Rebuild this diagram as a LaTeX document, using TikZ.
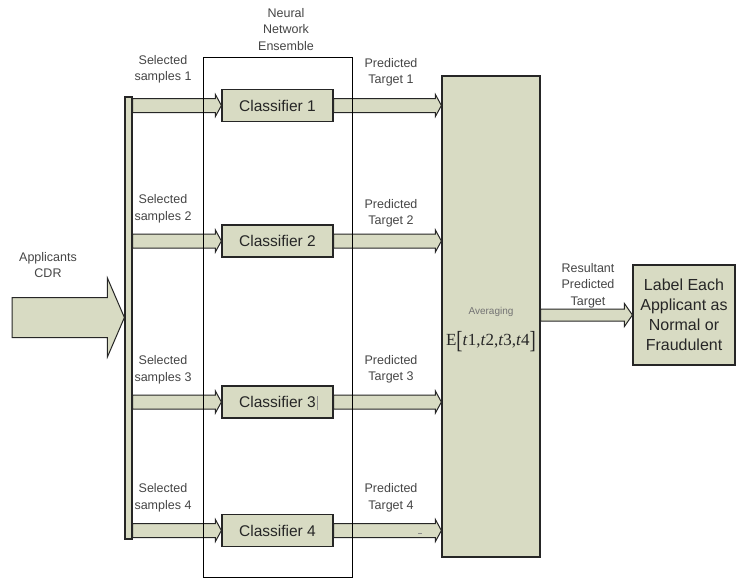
\documentclass[tikz,border=0pt]{standalone}
\usepackage{fontspec}
\usepackage{graphicx}
\setmainfont{Liberation Sans}
\newfontfamily\serifface{Liberation Serif}
\usetikzlibrary{calc}
\definecolor{boxfill}{HTML}{D8DBC3}
\definecolor{edge}{HTML}{262626}
\definecolor{txt}{HTML}{454545}
\tikzset{
 box/.style={draw=edge, fill=boxfill, line width=1.2pt, inner sep=0pt},
 clf/.style={box, minimum width=111pt, minimum height=32pt, font=\fontsize{15.5}{18}\selectfont, text=black!85},
 lbl/.style={align=center, inner sep=0pt, text=txt, font=\fontsize{12.5}{16.5}\selectfont},
 fat/.style={draw=edge, fill=boxfill, line width=1pt, line join=miter},
 ens/.style={draw=black, line width=0.8pt, inner sep=0pt},
}
\newcommand\fatarrow[5]{%
 \path[fat] let \p1=(#1), \p2=(#2) in
 (\x1,\y1+#3) -- (\x2-#5,\y1+#3) -- (\x2-#5,\y1+#4) -- (\x2,\y1) -- (\x2-#5,\y1-#4) -- (\x2-#5,\y1-#3) -- (\x1,\y1-#3) -- cycle;}
\begin{document}
\begin{tikzpicture}[x=1pt,y=-1pt]
\useasboundingbox (0,0) rectangle (736,578);
% boxes
\node[clf] (c1) at (277.5,105.5) {Classifier 1};
\node[clf] (c2) at (277.5,241) {Classifier 2};
\node[clf] (c3) at (277.5,402) {Classifier 3};
\node[clf] (c4) at (277.5,530.5) {Classifier 4};
\node[box, minimum width=98pt, minimum height=481pt] (avg) at (491,316.5) {};
\node[box, minimum width=7pt, minimum height=442pt] (bar) at (128.5,318) {};
\node[box, minimum width=102pt, minimum height=100pt, align=center, font=\fontsize{16}{20}\selectfont, text=black!85] (lab) at (684,315) {Label Each\\Applicant as\\Normal or\\Fraudulent};
% texts in averaging box
\node[inner sep=0pt, font=\fontsize{10}{12}\selectfont, text=black!55] (avgt) at (491,312) {Averaging};
\node[inner sep=0pt, font=\serifface\fontsize{17}{20}\selectfont, text=black!85] (eq) at (491,342) {E\raisebox{-0.2em}{\scalebox{1.1}[1.45]{[}}\textit{t}1,\textit{t}2,\textit{t}3,\textit{t}4\raisebox{-0.2em}{\scalebox{1.1}[1.45]{]}}};
% labels
\node[lbl] (s1) at (163,69.5) {Selected\\samples 1};
\node[lbl] (s2) at (163,209) {Selected\\samples 2};
\node[lbl] (s3) at (163,370) {Selected\\samples 3};
\node[lbl] (s4) at (163,498) {Selected\\samples 4};
\node[lbl] (p1) at (391,72.5) {Predicted\\Target 1};
\node[lbl] (p2) at (391,213.5) {Predicted\\Target 2};
\node[lbl] (p3) at (391,369.5) {Predicted\\Target 3};
\node[lbl] (p4) at (391,498) {Predicted\\Target 4};
\node[lbl] (res) at (588,285.5) {Resultant\\Predicted\\Target};
\node[lbl] (app) at (48,265) {Applicants\\CDR};
\node[lbl] (nne) at (286,29.5) {Neural\\Network\\Ensemble};
% big input arrow
\coordinate (cdr) at (12,317.5);
\fatarrow{cdr}{bar.west |- cdr}{20pt}{39.5pt}{17pt}
% arrows into classifiers
\fatarrow{bar.east |- c1.west}{c1.west}{7pt}{11pt}{6pt}
\fatarrow{bar.east |- c2.west}{c2.west}{7pt}{11pt}{6pt}
\fatarrow{bar.east |- c3.west}{c3.west}{7pt}{11pt}{6pt}
\fatarrow{bar.east |- c4.west}{c4.west}{7pt}{11pt}{6pt}
% arrows to averaging
\fatarrow{c1.east}{avg.west |- c1.east}{7pt}{11pt}{6pt}
\fatarrow{c2.east}{avg.west |- c2.east}{7pt}{11pt}{6pt}
\fatarrow{c3.east}{avg.west |- c3.east}{7pt}{11pt}{6pt}
\fatarrow{c4.east}{avg.west |- c4.east}{7pt}{11pt}{6pt}
% resultant arrow
\fatarrow{avg.east |- lab.west}{lab.west}{6pt}{11.5pt}{8pt}
% small marks
\draw[black!45, line width=0.4pt] (317,396) -- (317,410);
\draw[black!45, line width=0.6pt] (418,533) -- (422,533);
% ensemble frame
\node[ens, minimum width=149pt, minimum height=520pt] (ensbox) at (277.5,317) {};
\end{tikzpicture}
\end{document}
